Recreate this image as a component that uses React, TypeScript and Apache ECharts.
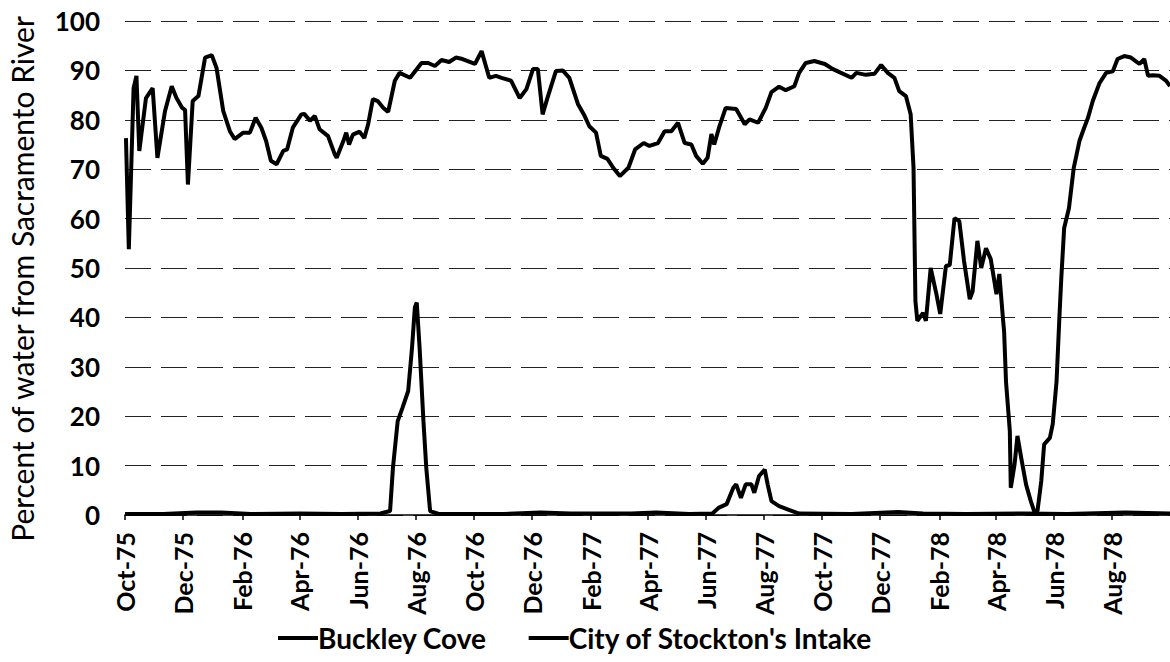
import React, { useEffect, useRef } from "react";
import * as echarts from "echarts";

const tickDates = [
  "1975-10-01", "1975-12-01", "1976-02-01", "1976-04-01", "1976-06-01", "1976-08-01",
  "1976-10-01", "1976-12-01", "1977-02-01", "1977-04-01", "1977-06-01", "1977-08-01",
  "1977-10-01", "1977-12-01", "1978-02-01", "1978-04-01", "1978-06-01", "1978-08-01",
];
const tickLabels = [
  "Oct-75", "Dec-75", "Feb-76", "Apr-76", "Jun-76", "Aug-76",
  "Oct-76", "Dec-76", "Feb-77", "Apr-77", "Jun-77", "Aug-77",
  "Oct-77", "Dec-77", "Feb-78", "Apr-78", "Jun-78", "Aug-78",
];
const axisStart = "1975-10-01";
const axisEnd = "1978-10-01";

const buckleyDates = [
  "1975-10-01", "1975-11-10", "1975-12-15", "1976-01-10", "1976-02-10", "1976-04-01",
  "1976-05-15", "1976-06-25", "1976-07-05", "1976-07-08", "1976-07-13", "1976-07-18",
  "1976-07-24", "1976-07-28", "1976-07-31", "1976-08-02", "1976-08-05", "1976-08-09",
  "1976-08-12", "1976-08-16", "1976-08-25", "1976-11-01", "1976-12-10", "1977-01-10",
  "1977-03-15", "1977-04-10", "1977-05-15", "1977-06-08", "1977-06-15", "1977-06-23",
  "1977-06-30", "1977-07-03", "1977-07-08", "1977-07-13", "1977-07-19", "1977-07-22",
  "1977-07-27", "1977-08-02", "1977-08-05", "1977-08-09", "1977-08-17", "1977-08-28",
  "1977-09-07", "1977-11-01", "1977-12-20", "1978-01-15", "1978-03-01", "1978-05-01",
  "1978-06-15", "1978-08-15", "1978-10-01",
];
const buckleyValues = [
  0.2, 0.2, 0.5, 0.5, 0.2, 0.3,
  0.2, 0.3, 0.8, 9.5, 19, 21.7,
  25.1, 33.8, 42, 43, 33.8, 19,
  9.5, 0.8, 0.2, 0.2, 0.5, 0.3,
  0.3, 0.5, 0.2, 0.3, 1.5, 2.2,
  5.5, 6.2, 3.5, 6.2, 6.2, 4.5,
  7.9, 9.2, 6.2, 2.8, 1.8, 1.0,
  0.3, 0.2, 0.6, 0.3, 0.2, 0.3,
  0.2, 0.5, 0.3,
];

const stocktonDates = [
  "1975-10-02", "1975-10-05", "1975-10-10", "1975-10-13", "1975-10-16", "1975-10-23",
  "1975-10-30", "1975-11-04", "1975-11-12", "1975-11-19", "1975-11-24", "1975-11-30",
  "1975-12-03", "1975-12-06", "1975-12-11", "1975-12-17", "1975-12-24", "1975-12-31",
  "1976-01-05", "1976-01-12", "1976-01-19", "1976-01-24", "1976-02-02", "1976-02-09",
  "1976-02-15", "1976-02-21", "1976-02-26", "1976-03-02", "1976-03-08", "1976-03-15",
  "1976-03-19", "1976-03-25", "1976-04-03", "1976-04-06", "1976-04-12", "1976-04-17",
  "1976-04-22", "1976-05-01", "1976-05-08", "1976-05-10", "1976-05-17", "1976-05-20",
  "1976-05-23", "1976-05-27", "1976-06-03", "1976-06-08", "1976-06-12", "1976-06-17",
  "1976-06-22", "1976-06-28", "1976-07-03", "1976-07-10", "1976-07-15", "1976-07-26",
  "1976-08-07", "1976-08-14", "1976-08-21", "1976-08-28", "1976-09-05", "1976-09-12",
  "1976-09-19", "1976-10-02", "1976-10-09", "1976-10-17", "1976-10-24", "1976-10-30",
  "1976-11-09", "1976-11-18", "1976-11-25", "1976-12-02", "1976-12-07", "1976-12-12",
  "1976-12-17", "1976-12-26", "1977-01-02", "1977-01-09", "1977-01-18", "1977-01-25",
  "1977-01-30", "1977-02-06", "1977-02-11", "1977-02-18", "1977-02-24", "1977-03-03",
  "1977-03-12", "1977-03-19", "1977-03-28", "1977-04-03", "1977-04-12", "1977-04-19",
  "1977-04-26", "1977-05-03", "1977-05-10", "1977-05-17", "1977-05-22", "1977-05-29",
  "1977-06-03", "1977-06-07", "1977-06-10", "1977-06-15", "1977-06-22", "1977-07-03",
  "1977-07-12", "1977-07-17", "1977-07-26", "1977-08-03", "1977-08-09", "1977-08-17",
  "1977-08-24", "1977-09-02", "1977-09-07", "1977-09-14", "1977-09-23", "1977-10-04",
  "1977-10-12", "1977-10-21", "1977-11-01", "1977-11-06", "1977-11-16", "1977-11-25",
  "1977-12-02", "1977-12-09", "1977-12-16", "1977-12-21", "1977-12-28", "1978-01-02",
  "1978-01-05", "1978-01-06", "1978-01-07", "1978-01-09", "1978-01-15", "1978-01-18",
  "1978-01-23", "1978-01-29", "1978-02-02", "1978-02-08", "1978-02-12", "1978-02-17",
  "1978-02-22", "1978-02-27", "1978-03-05", "1978-03-08", "1978-03-13", "1978-03-17",
  "1978-03-22", "1978-03-27", "1978-04-02", "1978-04-05", "1978-04-09", "1978-04-10",
  "1978-04-12", "1978-04-16", "1978-04-17", "1978-04-21", "1978-04-24", "1978-04-28",
  "1978-05-03", "1978-05-08", "1978-05-12", "1978-05-15", "1978-05-19", "1978-05-22",
  "1978-05-28", "1978-05-31", "1978-06-04", "1978-06-07", "1978-06-09", "1978-06-12",
  "1978-06-17", "1978-06-22", "1978-06-28", "1978-07-03", "1978-07-07", "1978-07-12",
  "1978-07-19", "1978-07-26", "1978-08-02", "1978-08-07", "1978-08-14", "1978-08-21",
  "1978-08-30", "1978-09-04", "1978-09-08", "1978-09-13", "1978-09-20", "1978-09-27",
  "1978-10-01",
];
const stocktonValues = [
  76.3, 53.8, 86.4, 88.9, 73.7, 84.4,
  86.4, 72.3, 81.8, 86.8, 84.4, 82.4,
  82.0, 66.9, 83.8, 84.8, 92.6, 93.1,
  90.5, 81.8, 77.7, 76.1, 77.4, 77.4,
  80.4, 78.4, 75.7, 71.7, 71.0, 73.7,
  74.0, 78.4, 81.1, 81.2, 79.8, 80.8,
  78.1, 76.7, 73.0, 72.3, 75.7, 77.4,
  75.0, 77.0, 77.6, 76.3, 79.1, 84.2,
  83.8, 82.4, 81.6, 87.9, 89.5, 88.5,
  91.5, 91.5, 90.9, 92.1, 91.7, 92.6,
  92.3, 91.3, 93.9, 88.5, 88.9, 88.5,
  87.9, 84.4, 86.2, 90.3, 90.3, 81.1,
  84.4, 89.9, 90.0, 88.5, 83.2, 80.8,
  78.7, 77.4, 72.7, 72.1, 70.3, 68.6,
  70.3, 74.0, 75.3, 74.7, 75.3, 77.7,
  77.7, 79.4, 75.3, 75.0, 72.7, 71.1,
  72.3, 77.1, 75.0, 78.4, 82.4, 82.2,
  79.1, 80.1, 79.4, 82.4, 85.6, 86.7,
  86.0, 86.8, 89.5, 91.5, 91.9, 91.3,
  90.3, 89.5, 88.5, 89.5, 89.1, 89.3,
  91.1, 89.5, 88.5, 85.8, 84.8, 81.1,
  70.3, 56.9, 43.3, 39.3, 40.9, 39.3,
  50.0, 44.7, 40.7, 50.4, 50.6, 60.1,
  59.5, 51.4, 43.7, 45.3, 55.5, 50.0,
  54.0, 51.8, 44.7, 48.8, 39.3, 37.2,
  27.0, 17.0, 5.5, 10.3, 16.0, 11.5,
  6.2, 2.8, 0.5, 0.8, 6.9, 14.3,
  15.6, 18.4, 27.0, 40.0, 48.0, 58.1,
  62.1, 70.2, 75.7, 78.4, 80.4, 83.8,
  87.4, 89.5, 89.8, 92.3, 92.9, 92.6,
  91.3, 92.3, 88.9, 89.0, 88.9, 87.9,
  86.8,
];

const yTicks = [0, 10, 20, 30, 40, 50, 60, 70, 80, 90, 100];
const yTitle = "Percent of water from Sacramento River";
const seriesNames = ["Buckley Cove", "City of Stockton's Intake"];

const ts = (s: string) => {
  const [y, m, d] = s.split("-").map(Number);
  return Date.UTC(y, m - 1, d);
};

const FONT = "Lato, 'Open Sans', sans-serif";

export default function App() {
  const ref = useRef<HTMLDivElement>(null);
  useEffect(() => {
    if (!ref.current) return;
    const chart = echarts.init(ref.current, null, { renderer: "svg" });
    const tickTs = tickDates.map(ts);
    const labelFor = (v: number) => {
      const i = tickTs.indexOf(v);
      return i >= 0 ? tickLabels[i] : "";
    };
    const lineStyle = { color: "#000", width: 4 };
    chart.setOption({
      animation: false,
      backgroundColor: "#fff",
      grid: { left: 125, right: 0, top: 21, bottom: 147, containLabel: false },
      legend: {
        data: seriesNames,
        left: 273,
        top: 619,
        icon: "rect",
        itemWidth: 40,
        itemHeight: 4,
        itemGap: 42,
        textStyle: { fontFamily: FONT, fontSize: 28, color: "#000", fontWeight: "bold", padding: [0, 0, 0, -5] },
      },
      graphic: [
        {
          type: "text",
          x: 22,
          y: 279,
          rotation: Math.PI / 2,
          style: {
            text: yTitle,
            fontFamily: FONT,
            fontSize: 30,
            fill: "#000",
            align: "center",
            verticalAlign: "middle",
          },
        },
      ],
      xAxis: {
        type: "value",
        min: ts(axisStart),
        max: ts(axisEnd),
        axisLine: { show: true, onZero: false, lineStyle: { color: "#000", width: 1.5 } },
        axisTick: { show: true, length: 5, lineStyle: { color: "#000", width: 1.5 }, customValues: tickTs },
        axisLabel: {
          customValues: tickTs,
          formatter: (v: number) => labelFor(v),
          rotate: 90,
          fontFamily: FONT,
          fontSize: 25,
          fontWeight: "bold",
          color: "#000",
          margin: 17,
        },
        splitLine: { show: false },
      },
      yAxis: {
        type: "value",
        min: yTicks[0],
        max: yTicks[yTicks.length - 1],
        interval: 10,
        axisLine: { show: false },
        axisTick: { show: false },
        axisLabel: { fontFamily: FONT, fontSize: 26, fontWeight: "bold", color: "#000", margin: 25 },
        splitLine: { show: true, lineStyle: { color: "#222", width: 1.1, type: [26, 10] } },
      },
      series: [
        {
          name: seriesNames[0],
          type: "line",
          showSymbol: false,
          symbol: "none",
          lineStyle,
          itemStyle: { color: "#000" },
          data: buckleyDates.map((d, i) => [ts(d), buckleyValues[i]]),
          z: 3,
        },
        {
          name: seriesNames[1],
          type: "line",
          showSymbol: false,
          symbol: "none",
          lineStyle,
          itemStyle: { color: "#000" },
          data: stocktonDates.map((d, i) => [ts(d), stocktonValues[i]]),
          z: 3,
        },
      ],
    });
    return () => chart.dispose();
  }, []);
  return (
    <div
      ref={ref}
      style={{ position: "absolute", left: 0, top: 0, width: 1170, height: 662, background: "#fff" }}
    />
  );
}
